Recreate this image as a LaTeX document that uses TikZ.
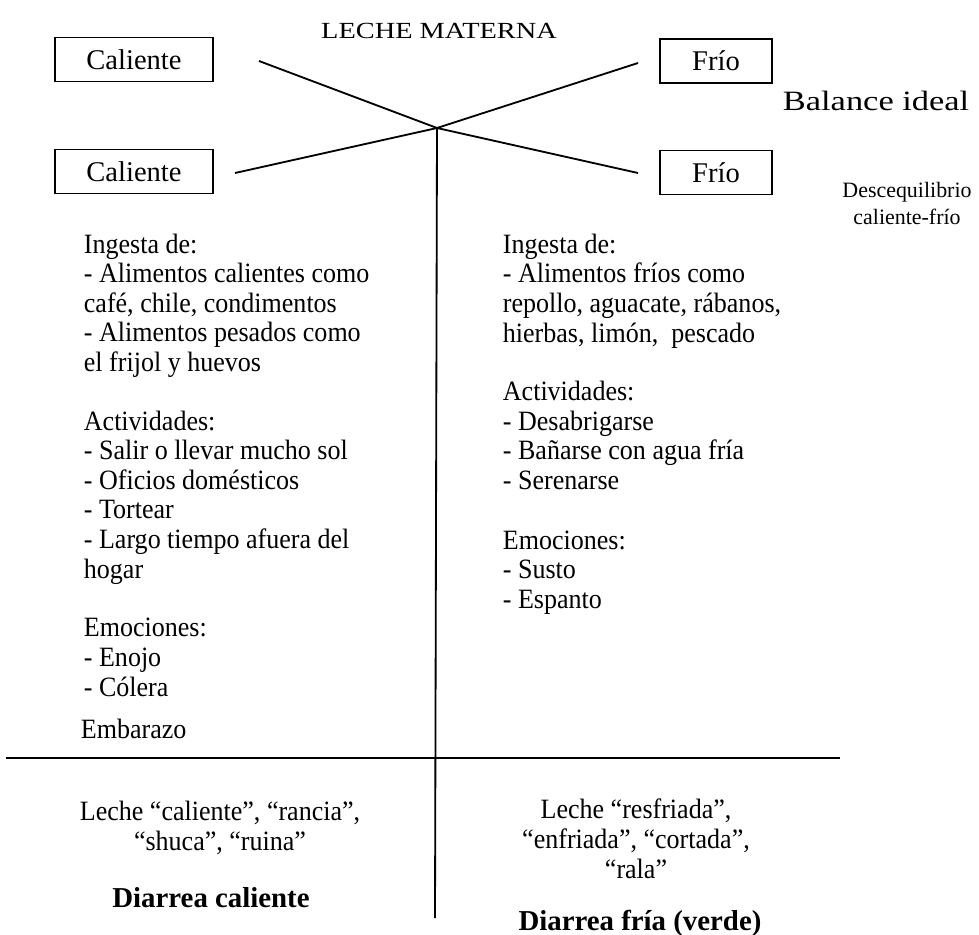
\documentclass[tikz,border=0pt]{standalone}
\usepackage{fontspec}
\setmainfont{Liberation Serif}
\newfontfamily\condserif[FakeStretch=0.93]{Liberation Serif}
\newfontfamily\wideserif[FakeStretch=1.23]{Liberation Serif}
\newcommand\cuerpo{\condserif\fontsize{19.9pt}{21pt}\selectfont\lineskiplimit=-50pt\relax}
\newcommand\caja{\fontsize{20.3pt}{22pt}\selectfont}
\begin{document}
\begin{tikzpicture}[x=0.025cm, y=-0.025cm, line width=1.3pt,
lado/.style={draw, minimum height=1.1cm, inner sep=0pt, font=\caja},
texto/.style={anchor=base west, align=left, inner sep=0pt, font=\cuerpo},
centro/.style={anchor=base, align=center, inner sep=0pt, font=\cuerpo},
negrita/.style={anchor=base, inner sep=0pt, font=\bfseries\fontsize{20.5pt}{21pt}\selectfont}]
\useasboundingbox (0,0) rectangle (979,934);
\clip (0,0) rectangle (979,934);
\node[anchor=base, inner sep=0pt, font=\wideserif\fontsize{16.4pt}{18pt}\selectfont] (leche) at (439,38) {LECHE MATERNA};
\node[lado, minimum width=3.95cm] (calA) at (134,59.5) {Caliente};
\node[lado, minimum width=3.95cm] (calB) at (134,171.5) {Caliente};
\node[lado, minimum width=2.8cm] (friA) at (716,61) {Frío};
\node[lado, minimum width=2.8cm] (friB) at (716,172.5) {Frío};
\node[anchor=base west, inner sep=0pt, font=\wideserif\fontsize{19.9pt}{21pt}\selectfont] (balance) at (782,110) {Balance ideal};
\node[anchor=base, align=center, inner sep=0pt, font=\fontsize{15.6pt}{18.5pt}\selectfont] (desq) at (907,224) {Descequilibrio\\caliente-frío};
\coordinate (cruce) at (437,128);
\coordinate (a1) at (259,61);
\coordinate (a2) at (235,173);
\coordinate (b1) at (638,63);
\coordinate (b2) at (638,173);
\coordinate (vfin) at (435,918);
\coordinate (hizq) at (6,758);
\coordinate (hder) at (840,758);
\draw (a1) -- (cruce) -- (b2);
\draw (a2) -- (cruce) -- (b1);
\draw (cruce) -- (vfin);
\draw (hizq) -- (hder);
\node[texto] (ingC) at (83,371.5) {Ingesta de:\\- Alimentos calientes como\\café, chile, condimentos\\- Alimentos pesados como\\el frijol y huevos};
\node[texto] (actC) at (83,578) {Actividades:\\- Salir o llevar mucho sol\\- Oficios domésticos\\- Tortear\\- Largo tiempo afuera del\\hogar};
\node[texto] (emoC) at (83,696) {Emociones:\\- Enojo\\- Cólera};
\node[texto] (emb) at (80,738) {Embarazo};
\node[texto] (ingF) at (502,342) {Ingesta de:\\- Alimentos fríos como\\repollo, aguacate, rábanos,\\hierbas, limón,\ \ pescado};
\node[texto] (actF) at (502,489.5) {Actividades:\\- Desabrigarse\\- Bañarse con agua fría\\- Serenarse};
\node[texto] (emoF) at (502,608.5) {Emociones:\\- Susto\\- Espanto};
\node[centro] (lecheC) at (220,850) {Leche “caliente”, “rancia”,\\“shuca”, “ruina”};
\node[negrita] (diaC) at (211,907) {Diarrea caliente};
\node[centro] (lecheF) at (636,878) {Leche “resfriada”,\\“enfriada”, “cortada”,\\“rala”};
\node[negrita] (diaF) at (640,930) {Diarrea fría (verde)};
\end{tikzpicture}
\end{document}
